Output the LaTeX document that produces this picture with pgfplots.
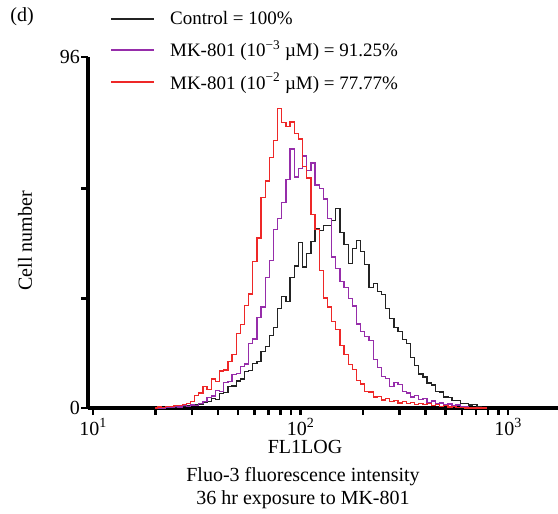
\documentclass[border=0pt]{standalone}
\usepackage{fontspec}
\setmainfont{Liberation Serif}
\usepackage{pgfplots}
\pgfplotsset{compat=1.18}
\usepackage{pgfplotstable}
\definecolor{cblack}{RGB}{35,35,35}
\definecolor{cpurple}{RGB}{150,45,170}
\definecolor{cred}{RGB}{238,40,40}

\pgfplotstableread{
x r p b
19.95 0 0 0
20.89 0.3 0 0
21.88 0.2 0 0
22.91 0.5 0.1 0.1
23.99 0.4 0.2 0.3
25.12 0.7 0.4 0.2
26.30 0.6 0.3 0.5
27.54 0.9 0.6 0.4
28.84 1.3 0.5 0.7
30.20 1.7 0.8 0.6
31.62 3.4 0.7 1.0
33.11 4.1 1.3 0.9
34.67 5.8 1.7 1.6
36.31 5.0 2.9 1.8
38.02 7.9 3.3 2.6
39.81 7.2 4.8 2.4
41.69 10.1 4.6 4.0
43.65 10.4 7.0 4.3
45.71 12.8 7.3 5.8
47.86 14.6 9.2 6.0
50.12 20.4 9.5 7.4
52.48 22.8 11.3 7.9
54.95 28.0 12.0 10.0
57.54 31.2 17.6 10.3
60.26 40.1 18.9 12.2
63.10 46.5 24.8 12.8
66.07 57.6 27.6 15.5
69.18 62.1 35.7 16.8
72.44 68.5 40.3 19.9
75.86 73.2 48.9 22.0
79.43 82.0 51.8 27.3
83.18 78.1 56.2 30.5
87.10 77.0 62.5 29.2
91.20 78.2 70.8 35.6
95.50 75.0 63.2 38.8
100.0 73.6 65.6 45.3
104.7 66.0 68.9 38.6
109.6 62.9 65.0 42.2
114.8 53.0 67.0 45.6
120.2 48.9 61.0 49.0
125.9 37.6 60.1 48.6
131.8 30.1 57.2 49.9
138.0 27.6 51.9 50.0
144.5 23.6 41.3 51.3
151.4 21.5 38.2 54.6
158.5 17.0 34.6 48.0
166.0 14.6 33.0 44.8
173.8 11.9 29.9 39.5
182.0 10.5 27.9 43.6
190.5 7.6 23.0 45.9
199.5 6.6 20.9 42.8
208.9 4.6 19.6 39.2
218.8 4.4 18.5 33.0
229.1 3.0 13.3 34.0
239.9 3.2 11.1 31.9
251.2 2.2 8.6 31.0
263.0 2.6 8.1 27.2
275.4 1.7 5.9 24.5
288.4 2.0 7.0 22.0
302.0 1.4 6.4 20.9
316.2 1.7 4.6 18.8
331.1 1.2 4.1 17.6
346.7 1.5 3.0 13.8
363.1 1.0 3.4 11.6
380.2 1.3 2.4 9.3
398.1 0.9 2.6 8.5
416.9 1.2 1.6 6.8
436.5 0.7 1.9 6.3
457.1 0.9 1.2 4.6
478.6 0.5 1.4 4.4
501.2 0.6 0.9 3.0
524.8 0.3 1.1 2.9
549.5 0.4 0.6 2.0
575.4 0.1 0.8 2.0
602.6 0.2 0.4 1.2
631.0 0 0.5 1.3
660.7 0 0.2 0.8
691.8 0 0.1 0.9
724.4 0 0 0.4
758.6 0 0 0.2
794.3 0 0 0
}\histdata

\begin{document}
\begin{tikzpicture}[font=\fontsize{20bp}{24bp}\selectfont]
\path[use as bounding box] (0bp,0bp) rectangle (558bp,514bp);
\begin{axis}[
  at={(88bp,106bp)}, anchor=south west,
  scale only axis, width=470bp, height=351bp,
  xmode=log, xmin=9.46, xmax=1741, ymin=0, ymax=96,
  axis x line=bottom, axis y line=left,
  axis line style={-, line width=3.2bp, black},
  tick align=outside,
  major tick length=7bp, minor tick length=7bp,
  tick style={black, line width=2.4bp},
  minor tick style={black, line width=2.4bp},
  xtick={10,100,1000},
  xticklabels={10\textsuperscript{1},10\textsuperscript{2},10\textsuperscript{3}},
  minor xtick={20,30,40,50,60,70,80,90,200,300,400,500,600,700,800,900},
  ytick={0,30,60,96},
  yticklabels={0,,,96},
  yticklabel style={inner xsep=1bp},
  xlabel={FL1LOG},
  xlabel style={at={(axis description cs:0.4617,-0.112)}, anchor=center},
  ylabel={Cell number},
  ylabel style={at={(axis description cs:-0.134,0.476)}, anchor=center},
  clip=false,
  legend style={at={(axis description cs:0.0403,1.1415)}, anchor=north west,
    draw=none, fill=none, font=\fontsize{19bp}{23bp}\selectfont, row sep=10.5bp,
    /tikz/every odd column/.append style={column sep=13bp}},
  legend cell align=left,
  legend image code/.code={\draw[#1, line width=2bp] (0bp,0bp) -- (43bp,0bp);},
]
\addplot[cblack, line width=1.3bp, const plot mark mid] table[x=x, y=b] {\histdata};
\addlegendentry{Control = 100\%}
\addplot[cpurple, line width=1.3bp, const plot mark mid] table[x=x, y=p] {\histdata};
\addlegendentry{MK-801 (10\textsuperscript{−3} µM) = 91.25\%}
\addplot[cred, line width=1.3bp, const plot mark mid] table[x=x, y=r] {\histdata};
\addlegendentry{MK-801 (10\textsuperscript{−2} µM) = 77.77\%}
\end{axis}
\node at (22bp,497bp) {(d)};
\node at (303bp,37bp) {Fluo-3 fluorescence intensity};
\node at (303bp,14bp) {36 hr exposure to MK-801};
\end{tikzpicture}
\end{document}
